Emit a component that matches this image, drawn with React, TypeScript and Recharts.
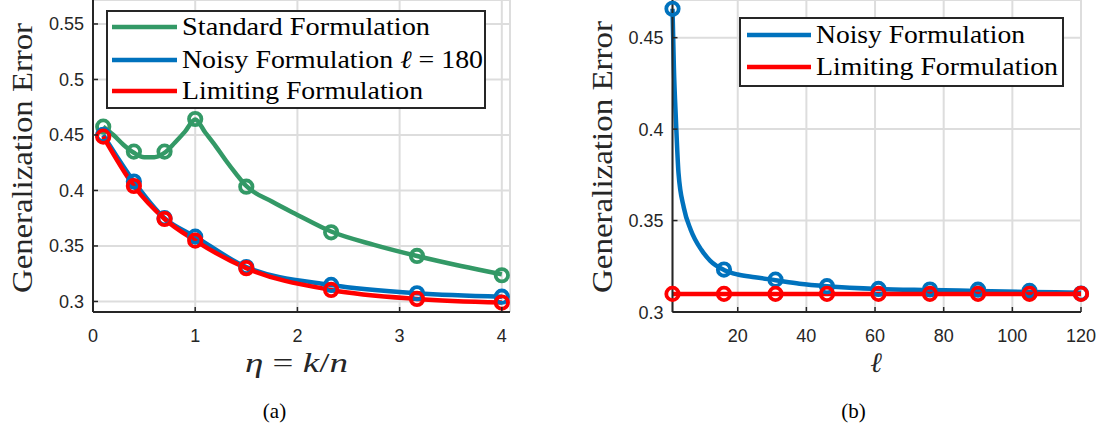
import React from 'react';
import { ComposedChart, Line, XAxis, YAxis, CartesianGrid, Legend } from 'recharts';

// (a) sample points (markers)
const etaMarks = [0.1, 0.4, 0.7, 1.0, 1.5, 2.33, 3.17, 4.0];
const standardMarks = [0.4575, 0.435, 0.435, 0.4644, 0.4034, 0.3623, 0.341, 0.3236];
const noisyMarksA = [0.45, 0.408, 0.375, 0.3584, 0.331, 0.3149, 0.3074, 0.3043];
const limitingMarksA = [0.4485, 0.404, 0.3743, 0.3548, 0.33, 0.3104, 0.3023, 0.299];

// (a) standard formulation curve
const etaCurve = [0.1, 0.2, 0.3, 0.4, 0.5, 0.6, 0.7, 0.8, 0.9, 1.0, 1.1, 1.2, 1.3, 1.4, 1.5, 1.75, 2.0, 2.33, 2.75, 3.17, 3.6, 4.0];
const standardCurve = [0.4575, 0.45, 0.441, 0.434, 0.43, 0.43, 0.434, 0.443, 0.453, 0.464, 0.452, 0.44, 0.427, 0.415, 0.404, 0.39, 0.378, 0.363, 0.351, 0.341, 0.332, 0.3245];

// (b) sample points
const ellMarks = [1, 16, 31, 46, 61, 76, 90, 105, 120];
const noisyMarksB = [0.4658, 0.3232, 0.3177, 0.3141, 0.3126, 0.3123, 0.3122, 0.3115, 0.3101];
const limitingMarksB = [0.3099, 0.3099, 0.3099, 0.3099, 0.3099, 0.3099, 0.3099, 0.3099, 0.3099];

// (b) noisy formulation curve
const ellCurve = [1, 1.4, 2, 2.75, 4.3, 6.3, 9.4, 12, 16, 20, 25, 31, 38, 46, 61, 76, 90, 105, 120];
const noisyCurve = [0.4658, 0.434, 0.405, 0.376, 0.357, 0.345, 0.334, 0.328, 0.323, 0.3205, 0.319, 0.3174, 0.3155, 0.3141, 0.3126, 0.312, 0.3115, 0.311, 0.3105];

const ticksEta = [0, 1, 2, 3, 4];
const ticksErrA = [0.3, 0.35, 0.4, 0.45, 0.5, 0.55];
const ticksEll = [20, 40, 60, 80, 100, 120];
const ticksErrB = [0.3, 0.35, 0.4, 0.45];

const GREEN = '#339966';
const BLUE = '#0072BD';
const RED = '#FF0000';
const AXIS = '#262626';
const GRID = '#dddddd';
const SERIF = '"Liberation Serif", "Times New Roman", Times, serif';
const SANS = '"Liberation Sans", Arial, sans-serif';

const PLOT_BOTTOM = 312;
const LW = 4.5;

const toPts = (xs: number[], ys: number[]) => xs.map((x, i) => ({ x, y: ys[i] }));

const ringDot = (color: string) => (props: any) => {
  const { cx, cy, index } = props;
  if (cx == null || cy == null) return <g key={index} />;
  return <circle key={index} cx={cx} cy={cy} r={6.2} fill="none" stroke={color} strokeWidth={3.8} />;
};

const XTick = (props: any) => {
  const { x, payload } = props;
  return (
    <g>
      <line x1={x} x2={x} y1={PLOT_BOTTOM} y2={PLOT_BOTTOM - 5} stroke={AXIS} strokeWidth={1.5} />
      <text x={x} y={341.5} textAnchor="middle" fontSize={18} fontFamily={SANS} style={{ fontFamily: SANS }} fill={AXIS}>
        {payload.value}
      </text>
    </g>
  );
};

const makeYTick = (axisX: number) => (props: any) => {
  const { y, payload } = props;
  return (
    <g>
      <line x1={axisX} x2={axisX + 5} y1={y} y2={y} stroke={AXIS} strokeWidth={1.5} />
      <text x={axisX - 9} y={y + 6.5} textAnchor="end" fontSize={18} fontFamily={SANS} style={{ fontFamily: SANS }} fill={AXIS}>
        {payload.value}
      </text>
    </g>
  );
};

type Entry = { color: string; label: React.ReactNode; len: number };

const legendBox = (w: number, h: number, rows: number[], lineX: [number, number], textX: number, entries: Entry[]) => () => (
  <svg width={w} height={h} style={{ display: 'block' }}>
    <rect x={1} y={1} width={w - 2} height={h - 2} fill="#fff" stroke={AXIS} strokeWidth={2} />
    {entries.map((e, i) => (
      <g key={i}>
        <line x1={lineX[0]} x2={lineX[1]} y1={rows[i]} y2={rows[i]} stroke={e.color} strokeWidth={LW} />
        <text
          x={textX}
          y={rows[i] + 8}
          fontSize={25}
          fontFamily={SERIF}
          style={{ fontFamily: SERIF }}
          fill="#000"
          textLength={e.len}
          lengthAdjust="spacingAndGlyphs"
        >
          {e.label}
        </text>
      </g>
    ))}
  </svg>
);

const legendA = legendBox(380, 99, [17, 50, 81], [6, 71], 76, [
  { color: GREEN, label: 'Standard Formulation', len: 248 },
  {
    color: BLUE,
    label: (
      <>
        {'Noisy Formulation '}
        <tspan fontStyle="italic">ℓ</tspan>
        {' = 180'}
      </>
    ),
    len: 301,
  },
  { color: RED, label: 'Limiting Formulation', len: 241 },
]);

const legendB = legendBox(325, 70, [18, 50], [8, 72], 77, [
  { color: BLUE, label: 'Noisy Formulation', len: 209 },
  { color: RED, label: 'Limiting Formulation', len: 242 },
]);

export default function App() {
  return (
    <div style={{ position: 'absolute', left: 0, top: 0, width: 1101, height: 427, background: '#fff', overflow: 'hidden' }}>
      {/* (a) */}
      <div style={{ position: 'absolute', left: 0, top: 0 }}>
        <ComposedChart width={530} height={352} margin={{ top: 0, right: 20, left: 0, bottom: 0 }}>
          <CartesianGrid stroke={GRID} strokeWidth={2} />
          <XAxis
            type="number"
            dataKey="x"
            domain={[0, 4.08]}
            ticks={ticksEta}
            interval={0}
            height={40}
            tickLine={false}
            axisLine={{ stroke: AXIS, strokeWidth: 2 }}
            tick={XTick}
          />
          <YAxis
            type="number"
            dataKey="y"
            domain={[0.2905, 0.5716]}
            ticks={ticksErrA}
            interval={0}
            width={93}
            tickLine={false}
            axisLine={{ stroke: AXIS, strokeWidth: 2 }}
            tick={makeYTick(93)}
          />
          <Legend
            layout="horizontal"
            verticalAlign="middle"
            align="center"
            content={legendA}
            wrapperStyle={{ top: 10, left: 106, width: 380, height: 99 }}
          />
          <Line data={toPts(etaCurve, standardCurve)} dataKey="y" type="monotone" stroke={GREEN} strokeWidth={LW} dot={false} isAnimationActive={false} />
          <Line data={toPts(etaMarks, standardMarks)} dataKey="y" stroke="none" dot={ringDot(GREEN)} activeDot={false} isAnimationActive={false} />
          <Line data={toPts(etaMarks, noisyMarksA)} dataKey="y" type="monotone" stroke={BLUE} strokeWidth={LW} dot={ringDot(BLUE)} activeDot={false} isAnimationActive={false} />
          <Line data={toPts(etaMarks, limitingMarksA)} dataKey="y" type="monotone" stroke={RED} strokeWidth={LW} dot={ringDot(RED)} activeDot={false} isAnimationActive={false} />
        </ComposedChart>
      </div>

      {/* (b) */}
      <div style={{ position: 'absolute', left: 580, top: 0 }}>
        <ComposedChart width={521} height={352} margin={{ top: 0, right: 20, left: 0, bottom: 0 }}>
          <CartesianGrid stroke={GRID} strokeWidth={2} />
          <XAxis
            type="number"
            dataKey="x"
            domain={[1, 120]}
            ticks={ticksEll}
            interval={0}
            height={40}
            tickLine={false}
            axisLine={{ stroke: AXIS, strokeWidth: 2 }}
            tick={XTick}
          />
          <YAxis
            type="number"
            dataKey="y"
            domain={[0.3, 0.4706]}
            ticks={ticksErrB}
            interval={0}
            width={92.5}
            tickLine={false}
            axisLine={{ stroke: AXIS, strokeWidth: 2 }}
            tick={makeYTick(92.5)}
          />
          <Legend
            layout="horizontal"
            verticalAlign="middle"
            align="center"
            content={legendB}
            wrapperStyle={{ top: 17, left: 159, width: 325, height: 70 }}
          />
          <Line data={toPts(ellCurve, noisyCurve)} dataKey="y" type="monotone" stroke={BLUE} strokeWidth={LW} dot={false} isAnimationActive={false} />
          <Line data={toPts(ellMarks, noisyMarksB)} dataKey="y" stroke="none" dot={ringDot(BLUE)} activeDot={false} isAnimationActive={false} />
          <Line data={toPts(ellMarks, limitingMarksB)} dataKey="y" type="monotone" stroke={RED} strokeWidth={LW} dot={ringDot(RED)} activeDot={false} isAnimationActive={false} />
        </ComposedChart>
      </div>

      {/* axis titles and captions */}
      <svg width={1101} height={427} style={{ position: 'absolute', left: 0, top: 0, pointerEvents: 'none', fontFamily: SERIF }}>
        <text transform="translate(32,158) rotate(-90)" textAnchor="middle" fontSize={30} fontFamily={SERIF} fill={AXIS} textLength={270} lengthAdjust="spacingAndGlyphs">
          Generalization Error
        </text>
        <text transform="translate(612,157) rotate(-90)" textAnchor="middle" fontSize={30} fontFamily={SERIF} fill={AXIS} textLength={272} lengthAdjust="spacingAndGlyphs">
          Generalization Error
        </text>
        <text x={296.5} y={372} textAnchor="middle" fontSize={28} fontFamily={SERIF} fill={AXIS} textLength={103} lengthAdjust="spacingAndGlyphs">
          <tspan fontStyle="italic">η</tspan>
          {' = '}
          <tspan fontStyle="italic">k</tspan>
          {'/'}
          <tspan fontStyle="italic">n</tspan>
        </text>
        <text x={876} y={372} textAnchor="middle" fontSize={28} fontFamily={SERIF} fontStyle="italic" fill={AXIS}>
          ℓ
        </text>
        <text x={274.5} y={418} textAnchor="middle" fontSize={21} fontFamily={SERIF} fill="#000">
          (a)
        </text>
        <text x={853.5} y={418} textAnchor="middle" fontSize={21} fontFamily={SERIF} fill="#000">
          (b)
        </text>
      </svg>
    </div>
  );
}
